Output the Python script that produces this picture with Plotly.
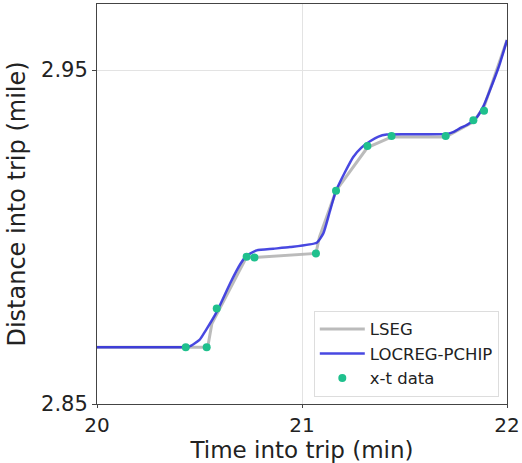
import plotly.graph_objects as go

# x-t data points
data_t = [20.433, 20.535, 20.584, 20.730, 20.768, 21.068, 21.166, 21.319, 21.437, 21.701, 21.836, 21.888]
data_d = [2.8670, 2.8670, 2.8786, 2.8941, 2.8939, 2.8951, 2.9139, 2.9273, 2.9303, 2.9303, 2.9350, 2.9378]

# LSEG (piecewise linear) breakpoints
lseg_t = [20.0, 20.433, 20.540, 20.560, 20.730, 20.768, 21.068, 21.085, 21.166, 21.319, 21.437, 21.701, 21.836, 21.888, 22.0]
lseg_d = [2.8670, 2.8670, 2.8670, 2.8740, 2.8941, 2.8939, 2.8951, 2.9000, 2.9139, 2.9268, 2.9300, 2.9300, 2.9345, 2.9390, 2.9590]

# LOCREG-PCHIP curve knots
pchip_t = [20.0, 20.20, 20.40, 20.45, 20.50, 20.53, 20.584, 20.649, 20.70, 20.73, 20.779, 20.86, 20.941, 21.072, 21.104, 21.135, 21.166, 21.21, 21.250, 21.290, 21.332, 21.373, 21.413, 21.50, 21.60, 21.707, 21.74, 21.771, 21.81, 21.852, 21.885, 21.917, 21.96, 22.0]
pchip_d = [2.8670, 2.8670, 2.8670, 2.8672, 2.8692, 2.8720, 2.8776, 2.8861, 2.8920, 2.8944, 2.8960, 2.8965, 2.8970, 2.8983, 2.9011, 2.9075, 2.9139, 2.9195, 2.9240, 2.9268, 2.9287, 2.9301, 2.9307, 2.9308, 2.9308, 2.9309, 2.9315, 2.9326, 2.9338, 2.9358, 2.9392, 2.9440, 2.9510, 2.9590]

x_ticks = [20, 21, 22]
x_tick_labels = ["20", "21", "22"]
y_ticks = [2.85, 2.95]
y_tick_labels = ["2.85", "2.95"]

fig = go.Figure()
fig.add_trace(go.Scatter(x=lseg_t, y=lseg_d, mode="lines", name="LSEG",
                         line=dict(color="rgba(170,170,170,0.8)", width=3)))
fig.add_trace(go.Scatter(x=pchip_t, y=pchip_d, mode="lines", name="LOCREG-PCHIP",
                         line=dict(color="rgba(40,40,220,0.85)", width=2.5, shape="spline", smoothing=0.5)))
fig.add_trace(go.Scatter(x=data_t, y=data_d, mode="markers", name="x-t data",
                         marker=dict(color="#1fc08d", size=8)))

font = "DejaVu Sans, sans-serif"
fig.update_layout(
    width=522, height=463,
    margin=dict(l=97, r=15, t=4, b=59, autoexpand=False),
    plot_bgcolor="white", paper_bgcolor="white",
    font=dict(family=font, color="#222"),
    legend=dict(x=0.98, y=0.018, xanchor="right", yanchor="bottom",
                bgcolor="rgba(255,255,255,0.85)", bordercolor="#dddddd", borderwidth=1,
                font=dict(size=16.5, family=font), itemwidth=45, tracegroupgap=2),
    showlegend=True,
)
fig.update_xaxes(range=[20, 22], tickvals=x_ticks, ticktext=x_tick_labels,
                 showgrid=True, gridcolor="#e3e3e3", gridwidth=1,
                 showline=True, linecolor="#444", linewidth=1, mirror=True,
                 ticks="outside", ticklen=3, tickcolor="#444",
                 tickfont=dict(size=20), zeroline=False,
                 title=dict(text="Time into trip (min)", font=dict(size=23), standoff=5))
fig.update_yaxes(range=[2.85, 2.9698], tickvals=y_ticks, ticktext=y_tick_labels,
                 showgrid=True, gridcolor="#e3e3e3", gridwidth=1,
                 showline=True, linecolor="#444", linewidth=1, mirror=True,
                 ticks="outside", ticklen=4, tickcolor="#444",
                 tickfont=dict(size=21), zeroline=False,
                 title=dict(text="Distance into trip (mile)", font=dict(size=24), standoff=8))

fig.write_html("out.html", config={"displayModeBar": False})

# remove default page margin so the figure sits at the window's top-left
with open("out.html", "r", encoding="utf-8") as f:
    html = f.read()
html = html.replace("<head>", "<head><style>html,body{margin:0;padding:0;overflow:hidden;}</style>", 1)
with open("out.html", "w", encoding="utf-8") as f:
    f.write(html)
